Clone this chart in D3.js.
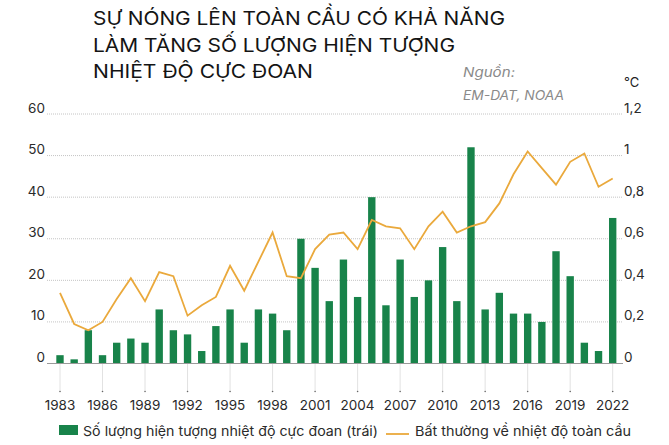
<!DOCTYPE html>
<html>
<head>
<meta charset="utf-8">
<script src="https://cdn.jsdelivr.net/npm/d3@7"></script>
<style>
  html, body { margin: 0; padding: 0; background: #fff; }
  svg { display: block; }
  text { font-family: Inter, "Open Sans", "Noto Sans", sans-serif; }
</style>
</head>
<body>
<svg id="chart" width="669" height="445"></svg>
<script>
// ---- Data ----
const years = [1983,1984,1985,1986,1987,1988,1989,1990,1991,1992,1993,1994,1995,1996,1997,1998,1999,2000,2001,2002,2003,2004,2005,2006,2007,2008,2009,2010,2011,2012,2013,2014,2015,2016,2017,2018,2019,2020,2021,2022];
const extremeEvents = [2,1,8,2,5,6,5,13,8,7,3,9,13,5,13,12,8,30,23,15,25,16,40,14,25,16,20,28,15,52,13,17,12,12,10,27,21,5,3,35];
const tempAnomaly = [0.34,0.19,0.16,0.20,0.31,0.41,0.30,0.44,0.42,0.23,0.28,0.32,0.47,0.35,0.49,0.63,0.42,0.41,0.55,0.62,0.63,0.55,0.69,0.66,0.65,0.55,0.66,0.73,0.63,0.66,0.68,0.77,0.91,1.02,0.94,0.86,0.97,1.01,0.85,0.89];
const xTickYears = [1983,1986,1989,1992,1995,1998,2001,2004,2007,2010,2013,2016,2019,2022];
const leftTicks = [0,10,20,30,40,50,60];
const rightTicks = [0,0.2,0.4,0.6,0.8,1,1.2];
const titleLines = ["SỰ NÓNG LÊN TOÀN CẦU CÓ KHẢ NĂNG", "LÀM TĂNG SỐ LƯỢNG HIỆN TƯỢNG", "NHIỆT ĐỘ CỰC ĐOAN"];
const sourceLines = ["Nguồn:", "EM-DAT, NOAA"];
const unitLabel = "°C";
const legendLabels = ["Số lượng hiện tượng nhiệt độ cực đoan (trái)", "Bất thường về nhiệt độ toàn cầu"];

const GREEN = "#18834a";
const ORANGE = "#eaa93c";

const svg = d3.select("#chart");

// ---- Scales ----
const x = d3.scalePoint().domain(years).range([60, 612.7]);
const barW = x.step() * 0.52;
const yL = d3.scaleLinear().domain([0, 60]).range([363.5, 114]);
const yR = d3.scaleLinear().domain([0, 1.2]).range([363.5, 114]);
const gridX0 = 47, gridX1 = 623;

// ---- Title ----
const titleWidths = [412, 362, 220];
const title = svg.append("g");
titleLines.forEach((t, i) => {
  title.append("text")
    .attr("x", 93).attr("y", 25 + i * 26.5)
    .attr("font-size", 19).attr("fill", "#141414")
    .attr("textLength", titleWidths[i]).attr("lengthAdjust", "spacingAndGlyphs")
    .text(t);
});

// ---- Source ----
const sourceWidths = [52, 101];
sourceLines.forEach((t, i) => {
  svg.append("text")
    .attr("x", 463).attr("y", 77 + i * 23)
    .attr("font-size", 13).attr("font-style", "italic").attr("fill", "#8a8a8a")
    .attr("textLength", sourceWidths[i]).attr("lengthAdjust", "spacingAndGlyphs")
    .text(t);
});
svg.append("text").attr("x", 624).attr("y", 87)
  .attr("font-size", 13).attr("fill", "#222").text(unitLabel);

// ---- Grid lines ----
svg.append("g").selectAll("line")
  .data(leftTicks.filter(d => d !== 0))
  .join("line")
  .attr("x1", gridX0).attr("x2", gridX1)
  .attr("y1", d => yL(d)).attr("y2", d => yL(d))
  .attr("stroke", "#c4c4c4").attr("stroke-width", 1)
  .attr("stroke-dasharray", "1,1");

// Left axis labels
svg.append("g").selectAll("text")
  .data(leftTicks)
  .join("text")
  .attr("x", 45).attr("y", d => yL(d) - 1.5)
  .attr("text-anchor", "end")
  .attr("font-size", 13.5).attr("fill", "#2a2a2a")
  .text(d => d);

// Right axis labels
const fmtR = d => d3.format("~g")(d).replace(".", ",");
svg.append("g").selectAll("text")
  .data(rightTicks)
  .join("text")
  .attr("x", 624).attr("y", d => yR(d) - 1.5)
  .attr("font-size", 13.5).attr("fill", "#2a2a2a")
  .text(fmtR);

// ---- Bars ----
svg.append("g").selectAll("rect")
  .data(years)
  .join("rect")
  .attr("x", (d) => x(d) - barW / 2)
  .attr("width", barW)
  .attr("y", (d, i) => yL(extremeEvents[i]))
  .attr("height", (d, i) => yL(0) - yL(extremeEvents[i]))
  .attr("fill", GREEN);

// Baseline
svg.append("line")
  .attr("x1", gridX0).attr("x2", gridX1)
  .attr("y1", yL(0)).attr("y2", yL(0))
  .attr("stroke", "#9a9a9a").attr("stroke-width", 1);

// ---- X ticks ----
const xt = svg.append("g");
xt.selectAll("line")
  .data(xTickYears)
  .join("line")
  .attr("x1", d => x(d)).attr("x2", d => x(d))
  .attr("y1", yL(0) + 1).attr("y2", 391)
  .attr("stroke", "#b5b5b5").attr("stroke-width", 0.8)
  .attr("stroke-dasharray", "1,1");
xt.selectAll("circle")
  .data(xTickYears)
  .join("circle")
  .attr("cx", d => x(d)).attr("cy", 391.5).attr("r", 0.8)
  .attr("fill", "#666");
xt.selectAll("text")
  .data(xTickYears)
  .join("text")
  .attr("x", d => x(d)).attr("y", 410)
  .attr("text-anchor", "middle")
  .attr("font-size", 13.5).attr("fill", "#2a2a2a")
  .text(d => d);

// ---- Line ----
const line = d3.line()
  .x((d) => x(d))
  .y((d, i) => yR(tempAnomaly[i]));
svg.append("path")
  .datum(years)
  .attr("d", line)
  .attr("fill", "none")
  .attr("stroke", ORANGE).attr("stroke-width", 1.8)
  .attr("stroke-linejoin", "miter");

// ---- Legend ----
const lg = svg.append("g");
lg.append("rect").attr("x", 59).attr("y", 425).attr("width", 19).attr("height", 10).attr("fill", GREEN);
lg.append("text").attr("x", 83).attr("y", 435.5)
  .attr("font-size", 13.5).attr("fill", "#2a2a2a")
  .attr("textLength", 295).attr("lengthAdjust", "spacingAndGlyphs")
  .text(legendLabels[0]);
lg.append("line").attr("x1", 386).attr("x2", 409).attr("y1", 434).attr("y2", 434)
  .attr("stroke", ORANGE).attr("stroke-width", 1.8);
lg.append("text").attr("x", 415).attr("y", 435.5)
  .attr("font-size", 13.5).attr("fill", "#2a2a2a")
  .attr("textLength", 216).attr("lengthAdjust", "spacingAndGlyphs")
  .text(legendLabels[1]);
</script>
</body>
</html>
